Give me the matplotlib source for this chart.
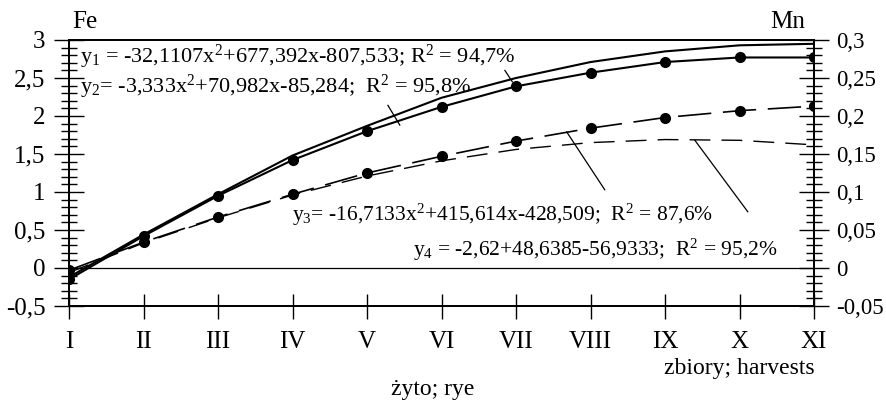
import numpy as np
import matplotlib
matplotlib.use("Agg")
import matplotlib.pyplot as plt
from matplotlib.ticker import MultipleLocator

plt.rcParams['font.family'] = ['Liberation Serif', 'DejaVu Serif']
plt.rcParams['mathtext.fontset'] = 'custom'
plt.rcParams['mathtext.rm'] = 'Liberation Serif'
plt.rcParams['mathtext.it'] = 'Liberation Serif'

# harvests
harvests = ["I", "II", "III", "IV", "V", "VI", "VII", "VIII", "IX", "X", "XI"]
x = np.arange(1, 12)

# Fe (left axis): measured and fitted
fe_data = [-0.15, 0.42, 0.95, 1.42, 1.80, 2.12, 2.39, 2.57, 2.71, 2.77, 2.77]
fe_fit = [-0.12, 0.44, 0.97, 1.48, 1.87, 2.24, 2.50, 2.71, 2.85, 2.93, 2.95]

# Mn (right axis): measured and fitted
mn_data = [-0.003, 0.034, 0.067, 0.097, 0.125, 0.147, 0.167, 0.184, 0.198, 0.207, 0.213]
mn_fit = [-0.006, 0.033, 0.066, 0.096, 0.121, 0.141, 0.156, 0.165, 0.169, 0.168, 0.162]

eq1 = r"y$_1$ = -32,1107x$^2$+677,392x-807,533; R$^2$ = 94,7%"
eq2 = r"y$_2$= -3,333x$^2$+70,982x-85,284;  R$^2$ = 95,8%"
eq3 = r"y$_3$= -16,7133x$^2$+415,614x-428,509;  R$^2$ = 87,6%"
eq4 = r"y$_4$ = -2,62+48,6385-56,9333;  R$^2$ = 95,2%"

fig = plt.figure(figsize=(8.87, 4.04), dpi=100)
ax = fig.add_axes([0.0778, 0.2426, 0.84, 0.6584])
ax2 = ax.twinx()

ax.plot(x, fe_fit, color="black", lw=1.5)
ax.plot(x, fe_data, color="black", lw=1.5, marker="o", markersize=7)
ax2.plot(x, mn_data, color="black", lw=1.2, marker="o", markersize=7, dashes=(20, 7))
ax2.plot(x, mn_fit, color="black", lw=1.0, dashes=(15, 8))

ax.axhline(0, color="black", lw=0.9)

ax.set_xlim(1, 11)
ax.set_ylim(-0.5, 3)
ax2.set_ylim(-0.05, 0.3)

ax.set_xticks(x)
ax.set_xticklabels(harvests)
ax.yaxis.set_major_locator(MultipleLocator(0.5))
ax.yaxis.set_minor_locator(MultipleLocator(0.1))
ax2.yaxis.set_major_locator(MultipleLocator(0.05))
ax2.yaxis.set_minor_locator(MultipleLocator(0.01))
ax.yaxis.set_major_formatter(lambda v, p: ("%g" % v).replace(".", ","))
ax2.yaxis.set_major_formatter(lambda v, p: ("%g" % round(v, 2)).replace(".", ","))

ax.tick_params(axis="x", direction="inout", length=18, width=1, pad=9, labelsize=18)
ax.tick_params(axis="y", which="major", direction="inout", length=22, width=1, labelsize=18, pad=6)
ax.tick_params(axis="y", which="minor", direction="inout", length=12, width=1)
ax2.tick_params(axis="y", which="major", direction="inout", length=22, width=1, labelsize=16.5, pad=5)
ax2.tick_params(axis="y", which="minor", direction="inout", length=12, width=1)

for a in (ax, ax2):
    for s in a.spines.values():
        s.set_linewidth(1.3)

ax.text(1.15, 2.78, eq1, fontsize=16, va="center", ha="left")
ax.text(1.15, 2.38, eq2, fontsize=16, va="center", ha="left")
ax.text(3.99, 0.70, eq3, fontsize=15.5, va="center", ha="left")
ax.text(5.62, 0.24, eq4, fontsize=15.5, va="center", ha="left")

# leader lines
leaders = [((6.85, 2.60), (6.95, 2.45)),
           ((5.28, 2.14), (5.44, 1.88)),
           ((7.68, 1.79), (8.19, 1.03)),
           ((9.40, 1.68), (10.11, 0.74))]
for p1, p2 in leaders:
    ax.plot([p1[0], p2[0]], [p1[1], p2[1]], color="black", lw=0.9)

fig.text(0.0958, 0.9455, "Fe", fontsize=18, ha="center", va="center")
fig.text(0.888, 0.9455, "Mn", fontsize=18, ha="center", va="center")
fig.text(0.833, 0.089, "zbiory; harvests", fontsize=17, ha="center", va="center")
fig.text(0.488, 0.035, "żyto; rye", fontsize=17, ha="center", va="center")

fig.savefig("out.png", dpi=100)
